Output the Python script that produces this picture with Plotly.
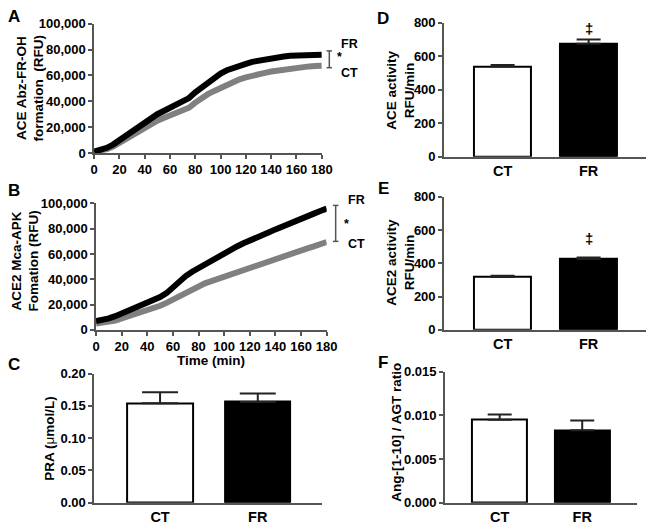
import plotly.graph_objects as go

W, H = 660, 529
OFF = 8  # the page body adds an 8px margin around the figure

time_min = [0, 5, 10, 15, 20, 25, 30, 35, 40, 45, 50, 55, 60, 65, 70, 75, 80, 85, 90,
            95, 100, 105, 110, 115, 120, 125, 130, 135, 140, 145, 150, 155, 160, 165,
            170, 175, 180]

ace_fr = [1000, 2000, 4000, 6500, 10000, 13500, 17000, 20500, 24000, 27000, 30000,
          32500, 35000, 37500, 40000, 42500, 47000, 51000, 55000, 58500, 61500, 64000,
          66000, 67500, 69000, 70500, 71500, 72500, 73500, 74000, 74700, 75200, 75500,
          75800, 76000, 76000, 76000]
ace_ct = [1000, 1800, 3000, 5000, 8000, 11000, 14000, 17000, 20000, 22500, 25000, 27000,
          29000, 31000, 33000, 35000, 39000, 42500, 45500, 48000, 50500, 53000, 55000,
          57000, 58500, 60000, 61000, 62000, 63000, 63800, 64500, 65300, 66000, 66500,
          67000, 67300, 67500]

ace2_fr = [7000, 7800, 9000, 10800, 12800, 14800, 17000, 19000, 21000, 23300, 26000,
           29000, 34000, 38500, 42500, 46000, 49000, 52000, 55000, 58000, 61000, 63500,
           66000, 68500, 71000, 73000, 75000, 77200, 79500, 81800, 84000, 86000, 88000,
           90000, 92000, 94000, 96000]
ace2_ct = [5000, 5400, 6000, 7300, 9000, 10500, 12000, 13500, 15000, 17000, 19000,
           21300, 24000, 27000, 30000, 32700, 35000, 36800, 38500, 40300, 42000, 43800,
           45500, 47300, 49000, 50800, 52500, 54300, 56000, 57800, 59500, 61300, 63000,
           64500, 66000, 67800, 69500]

groups = ["CT", "FR"]
pra_mean = [0.154, 0.156]
pra_err = [0.017, 0.013]
ace_act_mean = [540, 675]
ace_act_err = [8, 25]
ace2_act_mean = [318, 425]
ace2_act_err = [7, 10]
ang_ratio_mean = [0.0095, 0.0083]
ang_ratio_err = [0.0006, 0.0011]

FONT = "Liberation Sans, Arial, sans-serif"
AXIS_GREY = "#555555"


def dom_x(x0, x1):
    return [(x0 - OFF) / W, (x1 - OFF) / W]


def dom_y(top, bottom):
    return [1 - (bottom - OFF) / H, 1 - (top - OFF) / H]


def px(x):
    return (x - OFF) / W


def py(y):
    return 1 - (y - OFF) / H


def b(s):
    return "<b>" + s + "</b>"


fig = go.Figure()

# --- panels A and B: time courses
curve_sets = [
    ("x", "y", ace_ct, ace_fr),
    ("x2", "y2", ace2_ct, ace2_fr),
]
for xa, ya, ct, fr in curve_sets:
    fig.add_trace(go.Scatter(x=time_min, y=ct, mode="lines", xaxis=xa, yaxis=ya,
                             line=dict(color="#808080", width=6), showlegend=False))
    fig.add_trace(go.Scatter(x=time_min, y=fr, mode="lines", xaxis=xa, yaxis=ya,
                             line=dict(color="black", width=6), showlegend=False))

# --- bar panels C, D, E, F
bar_sets = [
    ("x3", "y3", pra_mean, pra_err, 18),
    ("x4", "y4", ace_act_mean, ace_act_err, 12),
    ("x5", "y5", ace2_act_mean, ace2_act_err, 12),
    ("x6", "y6", ang_ratio_mean, ang_ratio_err, 12),
]
for xa, ya, mean, err, cap in bar_sets:
    fig.add_trace(go.Bar(
        x=[0, 1], y=mean, width=0.67, xaxis=xa, yaxis=ya,
        marker=dict(color=["white", "black"], line=dict(color="black", width=2)),
        error_y=dict(type="data", array=err, arrayminus=[0, 0], symmetric=False,
                     color="#222222", thickness=2, width=cap),
        showlegend=False,
    ))

tickfont = dict(family=FONT, size=13, color="black")
base_axis = dict(showline=True, linecolor=AXIS_GREY, linewidth=1.5, ticks="outside",
                 ticklen=4, tickcolor=AXIS_GREY, tickwidth=1.5, showgrid=False,
                 zeroline=False, tickfont=tickfont)

layout = dict(
    width=W, height=H, margin=dict(l=0, r=0, t=0, b=0),
    plot_bgcolor="white", paper_bgcolor="white", bargap=0,
    font=dict(family=FONT, color="black"),
)

time_ticks = list(range(0, 181, 20))
rfu_ticks = list(range(0, 100001, 20000))

# A
layout["xaxis"] = dict(base_axis, domain=dom_x(92, 325), anchor="y", range=[0, 180],
                       tickvals=time_ticks, ticktext=[b(str(v)) for v in time_ticks])
layout["yaxis"] = dict(base_axis, domain=dom_y(17, 150), anchor="x", range=[0, 100000],
                       tickvals=rfu_ticks, ticktext=[b(f"{v:,}") for v in rfu_ticks])
# B
layout["xaxis2"] = dict(base_axis, domain=dom_x(94, 330), anchor="y2", range=[0, 180],
                        tickvals=time_ticks, ticktext=[b(str(v)) for v in time_ticks])
layout["yaxis2"] = dict(base_axis, domain=dom_y(202, 332), anchor="x2", range=[0, 100000],
                        tickvals=rfu_ticks, ticktext=[b(f"{v:,}") for v in rfu_ticks])

cat_font = dict(family=FONT, size=14.5, color="black")
bar_axes = [
    ("3", (92, 325), (377, 510), [-0.675, 1.655], [0, 0.2], [0, 0.05, 0.1, 0.15, 0.2], "{:.2f}"),
    ("4", (450, 657), (16, 154), [-0.682, 1.67], [0, 800], [0, 200, 400, 600, 800], "{:d}"),
    ("5", (450, 657), (195, 332), [-0.682, 1.67], [0, 800], [0, 200, 400, 600, 800], "{:d}"),
    ("6", (451, 648), (375, 510), [-0.663, 1.669], [0, 0.015], [0, 0.005, 0.01, 0.015], "{:.3f}"),
]
for n, (x0, x1), (t, bt), xr, yr, yt, fmt in bar_axes:
    layout["xaxis" + n] = dict(base_axis, domain=dom_x(x0, x1), anchor="y" + n, range=xr,
                               tickvals=[0, 1], ticktext=[b(g) for g in groups], ticks="",
                               tickfont=cat_font)
    layout["yaxis" + n] = dict(base_axis, domain=dom_y(t, bt), anchor="x" + n, range=yr,
                               tickvals=yt, ticktext=[b(fmt.format(v)) for v in yt])

fig.update_layout(**layout)

title_font = dict(family=FONT, size=13.5, color="black")
centred = dict(xanchor="center", yanchor="middle", showarrow=False)
ann = []
# panel letters
for letter, lx, ly in [("A", 10, 10), ("B", 10, 189), ("C", 10, 368),
                       ("D", 388, 12), ("E", 388, 187), ("F", 388, 366)]:
    ann.append(dict(text=b(letter), x=px(lx), y=py(ly), xref="paper", yref="paper",
                    font=dict(family=FONT, size=17, color="black"), **centred))
# y-axis titles
for txt, tx, ty in [
    ("<b>ACE Abz-FR-OH</b><br><b>formation  (RFU)</b>", 27, 84),
    ("<b>ACE2 Mca-APK</b><br><b>Fomation (RFU)</b>", 22, 261),
    ("<b>PRA (</b>μ<b>mol/L)</b>", 47, 444),
    ("<b>ACE activity</b><br><b>RFU/min</b>", 406, 85),
    ("<b>ACE2 activity</b><br><b>RFU/min</b>", 406, 262),
    ("<b>Ang-[1-10] / AGT ratio</b>", 402, 438),
]:
    ann.append(dict(text=txt, x=px(tx), y=py(ty), xref="paper", yref="paper",
                    textangle=-90, font=title_font, **centred))

ann.append(dict(text=b("Time (min)"), x=px(212), y=py(364), xref="paper", yref="paper",
                font=title_font, **centred))

# group labels and significance marks for the time courses
for xa, ya, xb, yb0, yb1, ys, yfr, yct in [("x", "y", 1.033, 0.66, 0.79, 0.74, 0.84, 0.62),
                                           ("x2", "y2", 1.039, 0.70, 0.985, 0.84, 1.03, 0.68)]:
    for txt, xx, yy in [("FR", xb + 0.09, yfr), ("CT", xb + 0.09, yct), ("*", xb + 0.045, ys)]:
        ann.append(dict(text=b(txt), x=xx, y=yy, xref=xa + " domain", yref=ya + " domain",
                        font=dict(family=FONT, size=12.5, color="black"), **centred))
    line = dict(color=AXIS_GREY, width=1.5)
    fig.add_shape(type="line", x0=xb, x1=xb, y0=yb0, y1=yb1, xref=xa + " domain",
                  yref=ya + " domain", line=line)
    for yy in (yb0, yb1):
        fig.add_shape(type="line", x0=xb - 0.012, x1=xb + 0.012, y0=yy, y1=yy,
                      xref=xa + " domain", yref=ya + " domain", line=line)

# double dagger marks on D and E
for xa, ya, yv in [("x4", "y4", 765), ("x5", "y5", 549)]:
    ann.append(dict(text=b("‡"), x=1, y=yv, xref=xa, yref=ya,
                    font=dict(family=FONT, size=15, color="black"), **centred))

fig.update_layout(annotations=ann)

fig.write_html("out.html")
